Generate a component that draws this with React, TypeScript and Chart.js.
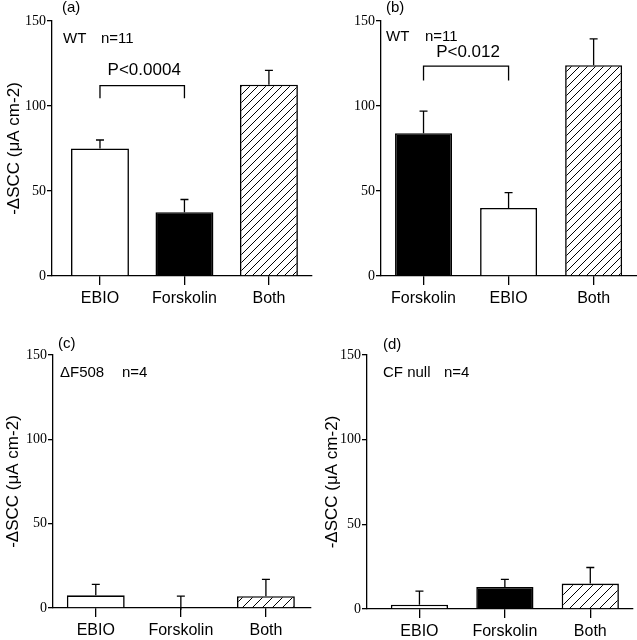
import React, { useEffect, useRef } from "react";
import { Chart, registerables } from "chart.js";

Chart.register(...registerables);

const SANS = "'Liberation Sans', Arial, sans-serif";
const SERIF = "'Liberation Serif', 'Times New Roman', serif";

const Y_TICK_VALUES = [0, 50, 100, 150];
const Y_TITLE = "-ΔSCC (μA cm-2)";

// Panel (a) WT
const A_CATEGORIES = ["EBIO", "Forskolin", "Both"];
const A_MEANS = [75, 37.5, 112.5];
const A_SEM = [5, 7.5, 8.5];
const A_FILLS = ["white", "black", "hatch"];

// Panel (b) WT
const B_CATEGORIES = ["Forskolin", "EBIO", "Both"];
const B_MEANS = [84, 40, 124];
const B_SEM = [13, 9, 15.5];
const B_FILLS = ["black", "white", "hatch"];

// Panel (c) ΔF508
const C_CATEGORIES = ["EBIO", "Forskolin", "Both"];
const C_MEANS = [7.5, -1, 7];
const C_SEM = [6.5, 8, 10];
const C_FILLS = ["white", "black", "hatch"];

// Panel (d) CF null
const D_CATEGORIES = ["EBIO", "Forskolin", "Both"];
const D_MEANS = [2.5, 13, 15];
const D_SEM = [8, 4.5, 9.5];
const D_FILLS = ["white", "black", "hatch"];

type Bracket = { from: number; to: number; top: number; leg: number; text: string; textY: number };

type Layout = {
  w: number; h: number; left: number; top: number; right: number; bottom: number;
  xMin: number; xMax: number; barPct: number; hatch: number;
  letterX: number; letterY: number; groupX: number; groupY: number; nX: number;
  titleX: number | null;
};

type PanelCfg = {
  letter: string; group: string; n: string;
  categories: string[]; means: number[]; sem: number[]; fills: string[];
  bracket?: Bracket;
  layout: Layout;
  pos: { left: number; top: number };
};

const PANELS: PanelCfg[] = [
  {
    letter: "(a)", group: "WT", n: "n=11",
    categories: A_CATEGORIES, means: A_MEANS, sem: A_SEM, fills: A_FILLS,
    bracket: { from: 0, to: 1, top: 112, leg: 104.5, text: "P<0.0004", textY: 121 },
    layout: { w: 318, h: 320, left: 52, top: 21, right: 312, bottom: 276, xMin: 0.432, xMax: 3.51, barPct: 0.686, hatch: 8,
      letterX: 62, letterY: 12, groupX: 63, groupY: 43, nX: 101, titleX: 14 },
    pos: { left: 0, top: 0 },
  },
  {
    letter: "(b)", group: "WT", n: "n=11",
    categories: B_CATEGORIES, means: B_MEANS, sem: B_SEM, fills: B_FILLS,
    bracket: { from: 0, to: 1, top: 123.5, leg: 115, text: "P<0.012", textY: 131.5 },
    layout: { w: 319, h: 320, left: 63, top: 21, right: 319, bottom: 276, xMin: 0.5, xMax: 3.51, barPct: 0.67, hatch: 8,
      letterX: 68, letterY: 12, groupX: 68, groupY: 41, nX: 107, titleX: null },
    pos: { left: 318, top: 0 },
  },
  {
    letter: "(c)", group: "ΔF508", n: "n=4",
    categories: C_CATEGORIES, means: C_MEANS, sem: C_SEM, fills: C_FILLS,
    layout: { w: 318, h: 320, left: 53, top: 35, right: 311, bottom: 288, xMin: 0.497, xMax: 3.53, barPct: 0.68, hatch: 10,
      letterX: 58, letterY: 28, groupX: 60, groupY: 57, nX: 122, titleX: 13 },
    pos: { left: 0, top: 320 },
  },
  {
    letter: "(d)", group: "CF null", n: "n=4",
    categories: D_CATEGORIES, means: D_MEANS, sem: D_SEM, fills: D_FILLS,
    layout: { w: 319, h: 320, left: 49, top: 35, right: 315, bottom: 289, xMin: 0.386, xMax: 3.5, barPct: 0.67, hatch: 10,
      letterX: 65, letterY: 29, groupX: 65, groupY: 57, nX: 126, titleX: 14.5 },
    pos: { left: 318, top: 320 },
  },
];

function makeHatch(ctx: CanvasRenderingContext2D, s: number) {
  const c = document.createElement("canvas");
  c.width = s;
  c.height = s;
  const g = c.getContext("2d")!;
  g.fillStyle = "white";
  g.fillRect(0, 0, s, s);
  g.strokeStyle = "black";
  g.lineWidth = 1;
  g.beginPath();
  g.moveTo(0, s);
  g.lineTo(s, 0);
  g.moveTo(-s / 2, s / 2);
  g.lineTo(s / 2, -s / 2);
  g.moveTo(s / 2, s * 1.5);
  g.lineTo(s * 1.5, s / 2);
  g.stroke();
  return ctx.createPattern(c, "repeat")!;
}

function Panel({ cfg }: { cfg: PanelCfg }) {
  const ref = useRef<HTMLCanvasElement | null>(null);

  useEffect(() => {
    const canvas = ref.current!;
    const ctx = canvas.getContext("2d")!;
    const L = cfg.layout;
    const hatch = makeHatch(ctx, L.hatch);
    const fills = cfg.fills.map((f) => (f === "hatch" ? hatch : f));

    const annotations = {
      id: "annotations",
      afterDatasetsDraw(chart: any) {
        const c: CanvasRenderingContext2D = chart.ctx;
        const xs = chart.scales.x;
        const ys = chart.scales.y;
        c.save();
        c.strokeStyle = "black";
        c.fillStyle = "black";
        c.lineWidth = 1.3;
        // error bars (upper only)
        cfg.means.forEach((m, i) => {
          const px = xs.getPixelForValue(i + 1);
          const y0 = ys.getPixelForValue(m);
          const y1 = ys.getPixelForValue(m + cfg.sem[i]);
          c.beginPath();
          c.moveTo(px, y0);
          c.lineTo(px, y1);
          c.moveTo(px - 4, y1);
          c.lineTo(px + 4, y1);
          c.stroke();
        });
        // significance bracket
        if (cfg.bracket) {
          const b = cfg.bracket;
          const x0 = xs.getPixelForValue(b.from + 1);
          const x1 = xs.getPixelForValue(b.to + 1);
          const yt = ys.getPixelForValue(b.top);
          const yl = ys.getPixelForValue(b.leg);
          c.beginPath();
          c.moveTo(x0, yl);
          c.lineTo(x0, yt);
          c.lineTo(x1, yt);
          c.lineTo(x1, yl);
          c.stroke();
          c.font = `17px ${SANS}`;
          c.textAlign = "center";
          c.textBaseline = "middle";
          c.fillText(b.text, (x0 + x1) / 2 + 2, ys.getPixelForValue(b.textY));
        }
        // panel texts
        c.textAlign = "left";
        c.textBaseline = "alphabetic";
        c.font = `15px ${SANS}`;
        c.fillText(cfg.letter, L.letterX, L.letterY);
        c.fillText(cfg.group, L.groupX, L.groupY);
        c.fillText(cfg.n, L.nX, L.groupY);
        // y title
        if (L.titleX !== null) {
          const ca = chart.chartArea;
          c.translate(L.titleX, (ca.top + ca.bottom) / 2);
          c.rotate(-Math.PI / 2);
          c.font = `17px ${SANS}`;
          c.textAlign = "center";
          c.textBaseline = "middle";
          c.fillText(Y_TITLE, 0, 0);
        }
        c.restore();
      },
    };

    const chart = new Chart(canvas, {
      type: "bar",
      data: {
        datasets: [
          {
            data: cfg.means.map((m, i) => ({ x: i + 1, y: m })),
            backgroundColor: fills as any,
            borderColor: "black",
            borderWidth: 1.6,
            categoryPercentage: 1,
            barPercentage: L.barPct,
          },
        ],
      },
      options: {
        responsive: false,
        animation: false,
        layout: { padding: { top: L.top, right: L.w - L.right, left: 0, bottom: 0 } },
        plugins: {
          legend: { display: false },
          tooltip: { enabled: false },
          title: { display: false },
        },
        scales: {
          x: {
            type: "linear",
            bounds: "data",
            offset: false,
            min: L.xMin,
            max: L.xMax,
            afterBuildTicks: (s: any) => {
              s.ticks = cfg.categories.map((_, i) => ({ value: i + 1 }));
            },
            afterFit: (s: any) => {
              s.height = L.h - L.bottom;
            },
            ticks: {
              callback: (_v: any, i: number) => cfg.categories[i] ?? "",
              font: { family: SANS, size: 16 },
              color: "black",
              padding: 4,
              autoSkip: false,
              maxRotation: 0,
            },
            grid: { offset: false, drawOnChartArea: false, drawTicks: true, tickLength: 9, color: "black", lineWidth: 1.3 },
            border: { display: true, color: "black", width: 1.3 },
          },
          y: {
            min: 0,
            max: 150,
            bounds: "data",
            afterBuildTicks: (s: any) => {
              s.ticks = Y_TICK_VALUES.map((v) => ({ value: v }));
            },
            afterFit: (s: any) => {
              s.width = L.left;
            },
            ticks: {
              font: { family: SERIF, size: 14 },
              color: "black",
              padding: 1,
            },
            grid: { drawOnChartArea: false, drawTicks: true, tickLength: 5, color: "black", lineWidth: 1.3 },
            border: { display: true, color: "black", width: 1.3 },
          },
        },
      } as any,
      plugins: [annotations],
    });

    return () => chart.destroy();
  }, [cfg]);

  return (
    <canvas
      ref={ref}
      width={cfg.layout.w}
      height={cfg.layout.h}
      style={{ position: "absolute", left: cfg.pos.left, top: cfg.pos.top, width: cfg.layout.w, height: cfg.layout.h }}
    />
  );
}

export default function App() {
  return (
    <div style={{ position: "absolute", left: 0, top: 0, width: 637, height: 640, background: "white", overflow: "hidden" }}>
      {PANELS.map((p) => (
        <Panel key={p.letter} cfg={p} />
      ))}
    </div>
  );
}
